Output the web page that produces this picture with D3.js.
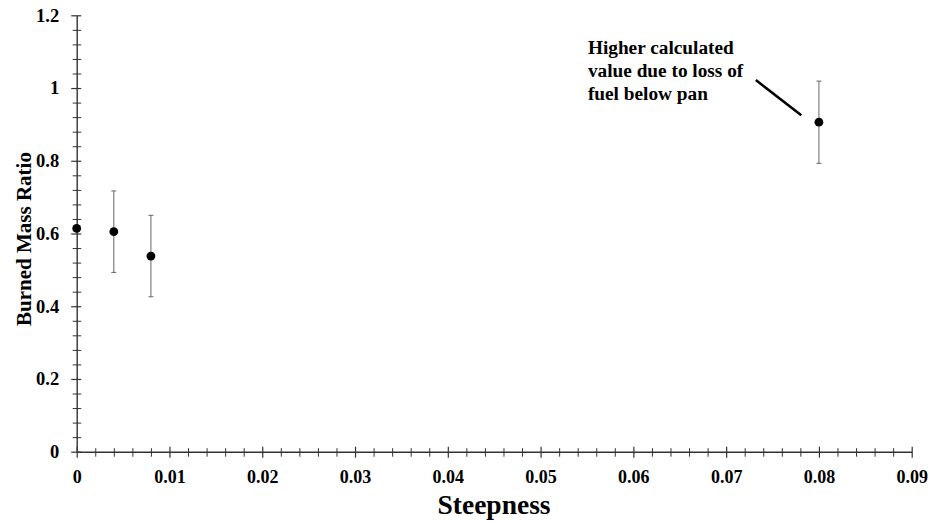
<!DOCTYPE html>
<html>
<head>
<meta charset="utf-8">
<script src="https://cdn.jsdelivr.net/npm/d3@7"></script>
<style>
  html, body { margin: 0; padding: 0; background: #fff; }
  svg { display: block; }
  text { font-family: "Liberation Serif", "Times New Roman", Times, serif; font-weight: bold; fill: #000; }
</style>
</head>
<body>
<svg id="chart" width="930" height="522"></svg>
<script>
// Burned mass ratio versus steepness
const steepness   = [0, 0.004, 0.008, 0.08];
const burnedRatio = [0.614, 0.605, 0.538, 0.906];
const errorHalf   = [null, 0.112, 0.112, 0.113];

const xMajorTicks = [0, 0.01, 0.02, 0.03, 0.04, 0.05, 0.06, 0.07, 0.08, 0.09];
const xTickLabels = ["0", "0.01", "0.02", "0.03", "0.04", "0.05", "0.06", "0.07", "0.08", "0.09"];
const yMajorTicks = [0, 0.2, 0.4, 0.6, 0.8, 1, 1.2];
const yTickLabels = ["0", "0.2", "0.4", "0.6", "0.8", "1", "1.2"];

const noteLines = ["Higher calculated", "value due to loss of", "fuel below pan"];
const noteAnchor = [0.0551, 1.094];
const noteArrow = [[0.0732, 1.022], [0.0781, 0.925]];

const svg = d3.select("#chart");

const x = d3.scaleLinear().domain([0, 0.09]).range([76.7, 911.7]);
const y = d3.scaleLinear().domain([0, 1.2]).range([451.7, 15.3]);

const axisColor = "#333";
const serif = '"Liberation Serif", "Times New Roman", serif';

// minor tick positions (0.002 on x, 0.04 on y)
const xMinor = d3.range(0, 46).map(i => i * 0.002).filter(v => Math.abs(v / 0.01 - Math.round(v / 0.01)) > 1e-6);
const yMinor = d3.range(0, 31).map(i => i * 0.04).filter(v => Math.abs(v / 0.2 - Math.round(v / 0.2)) > 1e-6);

// x axis
const gx = svg.append("g").attr("transform", `translate(0,${y(0)})`);
gx.call(d3.axisBottom(x).tickValues(xMajorTicks).tickSize(6).tickSizeOuter(0)
  .tickFormat((d, i) => xTickLabels[i]));
gx.select(".domain").attr("stroke", axisColor).attr("stroke-width", 1.4);
gx.selectAll(".tick line").attr("stroke", axisColor).attr("stroke-width", 1.2).attr("y1", -5);
gx.selectAll(".tick text").attr("dy", null).attr("y", 31).attr("font-size", 18)
  .style("font-family", serif).style("font-weight", "bold");

const gxm = svg.append("g").attr("transform", `translate(0,${y(0)})`);
gxm.call(d3.axisBottom(x).tickValues(xMinor).tickSize(5).tickSizeOuter(0).tickFormat(""));
gxm.select(".domain").remove();
gxm.selectAll(".tick line").attr("stroke", axisColor).attr("stroke-width", 1).attr("y1", -3.5);

// y axis
const gy = svg.append("g").attr("transform", `translate(${x(0)},0)`);
gy.call(d3.axisLeft(y).tickValues(yMajorTicks).tickSize(5.5).tickSizeOuter(0)
  .tickFormat((d, i) => yTickLabels[i]));
gy.select(".domain").attr("stroke", axisColor).attr("stroke-width", 1.4);
gy.selectAll(".tick line").attr("stroke", axisColor).attr("stroke-width", 1.2).attr("x1", 4.5);
gy.selectAll(".tick text").attr("x", -17.5).attr("font-size", 18.5)
  .style("font-family", serif).style("font-weight", "bold");

const gym = svg.append("g").attr("transform", `translate(${x(0)},0)`);
gym.call(d3.axisLeft(y).tickValues(yMinor).tickSize(4).tickSizeOuter(0).tickFormat(""));
gym.select(".domain").remove();
gym.selectAll(".tick line").attr("stroke", axisColor).attr("stroke-width", 1).attr("x1", 4.5);

// axis titles
svg.append("text")
  .attr("x", 494).attr("y", 514)
  .attr("text-anchor", "middle").attr("font-size", 27.5)
  .text("Steepness");

svg.append("text")
  .attr("transform", `translate(30.5,239) rotate(-90)`)
  .attr("text-anchor", "middle").attr("font-size", 21)
  .text("Burned Mass Ratio");

// data points with error bars
const data = steepness.map((s, i) => ({ s, r: burnedRatio[i], e: errorHalf[i] }));

const eb = svg.append("g").attr("stroke", "#666").attr("stroke-width", 1);
data.filter(d => d.e != null).forEach(d => {
  const cx = x(d.s);
  eb.append("line").attr("x1", cx).attr("x2", cx).attr("y1", y(d.r + d.e)).attr("y2", y(d.r - d.e));
  eb.append("line").attr("x1", cx - 2.5).attr("x2", cx + 2.5).attr("y1", y(d.r + d.e)).attr("y2", y(d.r + d.e));
  eb.append("line").attr("x1", cx - 2.5).attr("x2", cx + 2.5).attr("y1", y(d.r - d.e)).attr("y2", y(d.r - d.e));
});

svg.append("g").selectAll("circle").data(data).join("circle")
  .attr("cx", d => x(d.s)).attr("cy", d => y(d.r)).attr("r", 4.4)
  .attr("fill", "#000");

// annotation
const note = svg.append("text")
  .attr("x", x(noteAnchor[0])).attr("y", y(noteAnchor[1]))
  .attr("font-size", 19.3);
noteLines.forEach((t, i) => {
  note.append("tspan").attr("x", x(noteAnchor[0])).attr("dy", i === 0 ? 0 : 23.3).text(t);
});

svg.append("line")
  .attr("x1", x(noteArrow[0][0])).attr("y1", y(noteArrow[0][1]))
  .attr("x2", x(noteArrow[1][0])).attr("y2", y(noteArrow[1][1]))
  .attr("stroke", "#000").attr("stroke-width", 2.5);
</script>
</body>
</html>
